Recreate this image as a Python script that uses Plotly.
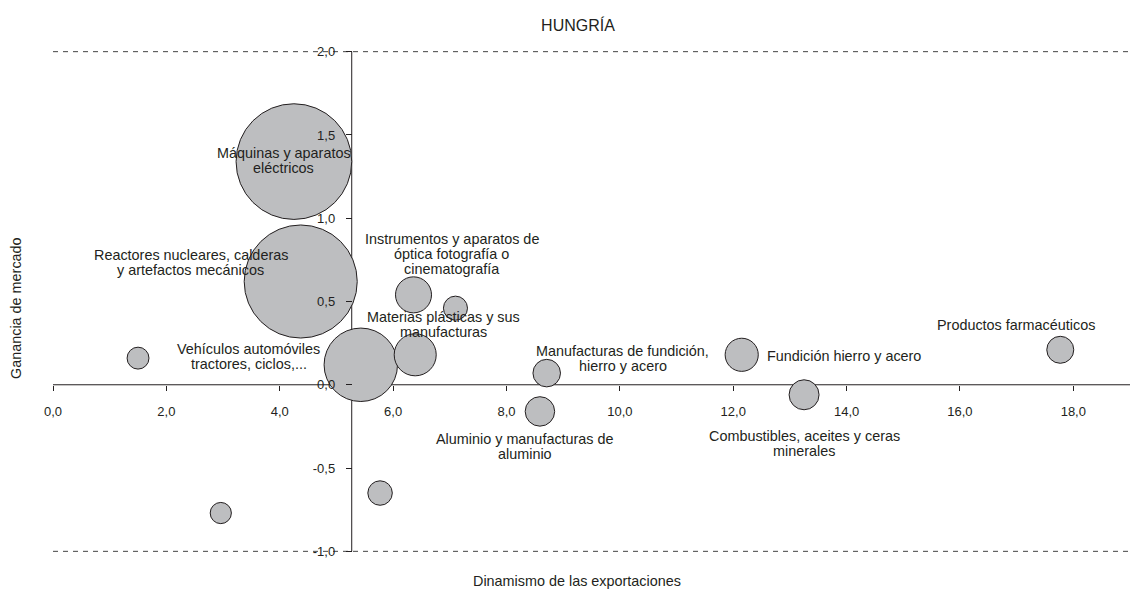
import plotly.graph_objects as go

# Capítulos arancelarios de las exportaciones de Hungría
categorias = [
    "Máquinas y aparatos<br>eléctricos",
    "Reactores nucleares, calderas<br>y artefactos mecánicos",
    "Vehículos automóviles<br>tractores, ciclos,...",
    "Instrumentos y aparatos de<br>óptica fotografía o<br>cinematografía",
    "",
    "Materias plásticas y sus<br>manufacturas",
    "Manufacturas de fundición,<br>hierro y acero",
    "Aluminio y manufacturas de<br>aluminio",
    "Fundición hierro y acero",
    "Combustibles, aceites y ceras<br>minerales",
    "Productos farmacéuticos",
    "",
    "",
    "",
]
# Dinamismo de las exportaciones (eje X)
dinamismo = [4.25, 4.37, 5.43, 6.36, 7.10, 6.39, 8.71, 8.59, 12.15, 13.25, 17.77, 1.50, 2.96, 5.77]
# Ganancia de mercado (eje Y)
ganancia = [1.34, 0.62, 0.12, 0.54, 0.46, 0.18, 0.07, -0.16, 0.18, -0.06, 0.21, 0.16, -0.77, -0.65]
# Peso de cada capítulo (tamaño de la burbuja, proporcional al área)
peso = [13.4, 12.8, 5.4, 1.3, 0.58, 1.77, 0.76, 0.87, 1.10, 0.90, 0.73, 0.48, 0.45, 0.60]

# Dinamismo medio: punto de corte del eje vertical
dinamismo_medio = 5.27

x_ticks = [0, 2, 4, 6, 8, 10, 12, 14, 16, 18]
x_ticktext = ["0,0", "2,0", "4,0", "6,0", "8,0", "10,0", "12,0", "14,0", "16,0", "18,0"]
y_ticks = [-1.0, -0.5, 0.0, 0.5, 1.0, 1.5, 2.0]
y_ticktext = ["-1,0", "-0,5", "0,0", "0,5", "1,0", "1,5", "2,0"]
y_limites = [-1.0, 2.0]
x_limites = [0.0, 19.0]

# Desplazamiento (px) de cada etiqueta respecto al centro de su burbuja
desplazamientos = [(-10, 1), (-110, 19), (-112, 8.5), (38, 41), None, (28.5, 30.5),
                   (76, 14.6), (-15, -35), (102, -1.5), (0, -48.7), (-44.6, 25),
                   None, None, None]

FUENTE = "Liberation Sans, Arial, Helvetica, sans-serif"
TINTA = "#231F20"
INTERLINEA = 15.0

fig = go.Figure()
fig.add_trace(go.Scatter(
    x=dinamismo, y=ganancia, mode="markers",
    marker=dict(size=peso, sizemode="area", sizeref=2 / 31.6 ** 2,
                color="#BDBEC0", opacity=1,
                line=dict(color=TINTA, width=1)),
    hoverinfo="x+y", showlegend=False,
))

# Etiquetas: una anotación por línea para controlar el interlineado
for nombre, xv, yv, desp in zip(categorias, dinamismo, ganancia, desplazamientos):
    if not nombre or desp is None:
        continue
    lineas = nombre.split("<br>")
    n = len(lineas)
    for i, linea in enumerate(lineas):
        fig.add_annotation(
            x=xv, y=yv, xref="x", yref="y", text=linea, showarrow=False,
            xanchor="center", yanchor="middle",
            xshift=desp[0], yshift=desp[1] + ((n - 1) / 2 - i) * INTERLINEA,
            font=dict(family=FUENTE, size=14.4, color=TINTA),
        )

pad = 0.01
y_rango = [y_limites[0] - pad, y_limites[1] + pad]

# Ejes cruzados (debajo de las burbujas) y líneas discontinuas en los extremos
fig.add_shape(type="line", xref="x", yref="y", x0=x_limites[0], x1=x_limites[1], y0=0, y1=0,
              line=dict(color=TINTA, width=1), layer="below")
fig.add_shape(type="line", xref="x", yref="y", x0=dinamismo_medio, x1=dinamismo_medio,
              y0=y_limites[0], y1=y_limites[1], line=dict(color=TINTA, width=1), layer="below")
for yl in y_limites:
    fig.add_shape(type="line", xref="x", yref="y", x0=x_limites[0], x1=x_limites[1], y0=yl, y1=yl,
                  line=dict(color="#444444", width=1, dash="5px,5px"), layer="below")

fig.update_xaxes(
    range=x_limites, showgrid=False, zeroline=False, showline=False,
    anchor="free", position=(0 - y_rango[0]) / (y_rango[1] - y_rango[0]),
    tickmode="array", tickvals=x_ticks, ticktext=x_ticktext,
    ticks="outside", ticklen=5, tickwidth=1, tickcolor=TINTA,
    ticklabelstandoff=10,
    tickfont=dict(family=FUENTE, size=13, color=TINTA),
)
fig.update_yaxes(
    range=y_rango, showgrid=False, zeroline=False, showline=False,
    anchor="free", position=(dinamismo_medio - x_limites[0]) / (x_limites[1] - x_limites[0]),
    tickmode="array", tickvals=y_ticks, ticktext=y_ticktext,
    ticks="outside", ticklen=6, tickwidth=1, tickcolor=TINTA,
    ticklabelstandoff=8,
    tickfont=dict(family=FUENTE, size=13, color=TINTA),
)

# Títulos
fig.add_annotation(text="Ganancia de mercado", xref="paper", yref="paper",
                   x=(16 - 53) / 1077, y=(553 - 308) / 503, textangle=-90,
                   showarrow=False, xanchor="center", yanchor="middle",
                   font=dict(family=FUENTE, size=14.4, color=TINTA))
fig.add_annotation(text="Dinamismo de las exportaciones", xref="paper", yref="paper",
                   x=(576.5 - 53) / 1077, y=(553 - 581) / 503,
                   showarrow=False, xanchor="center", yanchor="middle",
                   font=dict(family=FUENTE, size=14.4, color=TINTA))

fig.update_layout(
    title=dict(text="HUNGRÍA", xref="paper", x=(578 - 53) / 1077, xanchor="center",
               yref="container", y=1 - 25 / 590, yanchor="middle",
               font=dict(family=FUENTE, size=16, color=TINTA)),
    width=1130, height=590,
    margin=dict(l=53, r=0, t=50, b=37),
    paper_bgcolor="white", plot_bgcolor="white",
    showlegend=False,
)

fig.write_html("out.html")
